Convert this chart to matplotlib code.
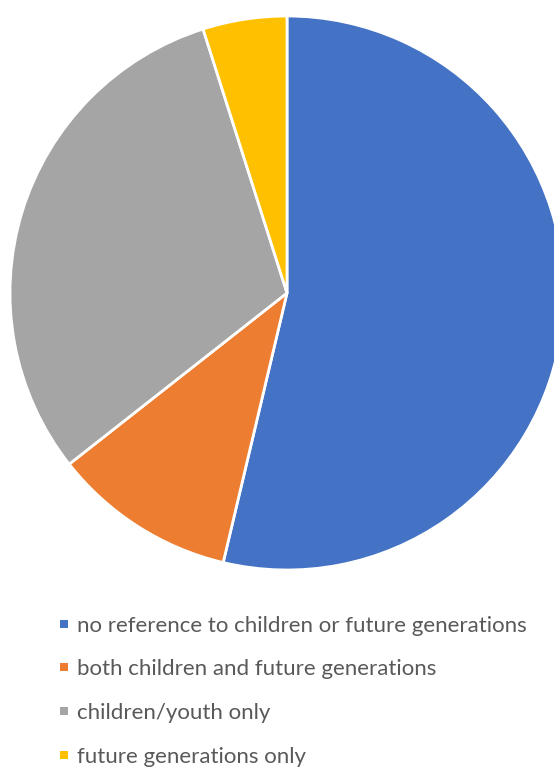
import matplotlib.pyplot as plt
from matplotlib.patches import Rectangle

## data (shares in %)
labels = ['no reference to children or future generations',
          'both children and future generations',
          'children/youth only',
          'future generations only']
shares = [53.7, 10.7, 30.7, 4.9]
colors = ['#4472C4', '#ED7D31', '#A5A5A5', '#FFC000']

W, H = 554, 768
fig = plt.figure(figsize=(W / 100, H / 100), dpi=100)

## pie: centre (287, 293) px, radius 277 px
cx, cy, r = 287, 293, 277
ax = fig.add_axes([(cx - r) / W, (H - cy - r) / H, 2 * r / W, 2 * r / H])
ax.pie(shares, colors=colors, startangle=90, counterclock=False, radius=1,
       wedgeprops=dict(edgecolor='white', linewidth=2))
ax.set_xlim(-1, 1)
ax.set_ylim(-1, 1)
ax.set_aspect('equal')
ax.axis('off')

## legend, drawn by hand to match the spacing
baselines = [632, 675, 719, 763]
for lab, col, yb in zip(labels, colors, baselines):
    fig.text(77 / W, 1 - yb / H, lab, fontsize=16, family='Lato',
             color='#595959', va='baseline', ha='left')
    fig.patches.append(Rectangle((60 / W, 1 - (yb - 4) / H), 8 / W, 8 / H,
                                 transform=fig.transFigure, facecolor=col,
                                 edgecolor='none'))

fig.savefig('out.png', dpi=100)
